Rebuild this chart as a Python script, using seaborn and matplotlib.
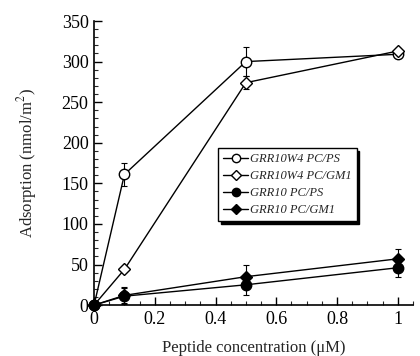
import numpy as np
import pandas as pd
import matplotlib
matplotlib.use("Agg")
import matplotlib.pyplot as plt
import seaborn as sns
from matplotlib.ticker import MultipleLocator

conc = [0.0, 0.1, 0.5, 1.0]
series = ["GRR10W4 PC/PS", "GRR10W4 PC/GM1", "GRR10 PC/PS", "GRR10 PC/GM1"]
w4_ps = [0, 161, 300, 309]
w4_gm1 = [0, 44, 274, 313]
g_ps = [0, 11, 25, 46]
g_gm1 = [0, 12, 35, 57]
w4_ps_err = [0, 14, 18, 4]
w4_gm1_err = [0, 3, 8, 4]
g_ps_err = [0, 10, 13, 11]
g_gm1_err = [0, 10, 15, 12]

values = [w4_ps, w4_gm1, g_ps, g_gm1]
errs = [w4_ps_err, w4_gm1_err, g_ps_err, g_gm1_err]

df = pd.DataFrame({
    "conc": np.tile(conc, 4),
    "ads": np.concatenate(values),
    "err": np.concatenate(errs),
    "series": np.repeat(series, 4),
})

sns.set_theme(style="ticks")
plt.rcParams["font.family"] = ["Liberation Serif", "DejaVu Serif"]
plt.rcParams["mathtext.fontset"] = "stix"

fig = plt.figure(figsize=(4.2, 3.56), dpi=100)
ax = fig.add_axes([0.224, 0.143, 0.759, 0.798])

styles = {
    "GRR10W4 PC/PS": dict(marker="o", mfc="white", ms=7.5),
    "GRR10W4 PC/GM1": dict(marker="D", mfc="white", ms=6),
    "GRR10 PC/PS": dict(marker="o", mfc="black", ms=7.5),
    "GRR10 PC/GM1": dict(marker="D", mfc="black", ms=6),
}

for name in series:
    sub = df[df["series"] == name]
    st = styles[name]
    ax.errorbar(sub["conc"], sub["ads"], yerr=sub["err"], fmt="none",
                ecolor="black", elinewidth=0.8, capsize=2.5, capthick=0.8,
                zorder=2, clip_on=False)
    sns.lineplot(data=sub, x="conc", y="ads", ax=ax, color="black",
                 linewidth=1.0, marker=st["marker"], markersize=st["ms"],
                 markerfacecolor=st["mfc"], markeredgecolor="black",
                 markeredgewidth=1.0, label=name, clip_on=False, zorder=3)

ax.set_xlim(0, 1.05)
ax.set_ylim(0, 350)
ax.xaxis.set_major_locator(MultipleLocator(0.2))
ax.xaxis.set_minor_locator(MultipleLocator(0.05))
ax.yaxis.set_major_locator(MultipleLocator(50))
ax.yaxis.set_minor_locator(MultipleLocator(10))
ax.set_xticks([0, 0.2, 0.4, 0.6, 0.8, 1.0])
ax.set_xticklabels(["0", "0.2", "0.4", "0.6", "0.8", "1"])
ax.tick_params(axis="both", which="major", direction="in", length=6,
               width=1, labelsize=13, colors="black", pad=4)
ax.tick_params(axis="both", which="minor", direction="in", length=3, width=0.8)
for s in ["top", "right"]:
    ax.spines[s].set_visible(False)
for s in ["left", "bottom"]:
    ax.spines[s].set_linewidth(1.2)
    ax.spines[s].set_color("black")

ax.set_xlabel("Peptide concentration (\u03bcM)", fontsize=12, labelpad=9)
ax.set_ylabel("Adsorption (nmol/m$^2$)", fontsize=12, labelpad=16)

leg = ax.legend(loc="upper left", bbox_to_anchor=(0.389, 0.553), frameon=True,
                fancybox=False, shadow={"color": "black", "alpha": 1},
                edgecolor="black", handlelength=2.0, handletextpad=0.15,
                borderpad=0.4, labelspacing=0.4, borderaxespad=0,
                markerscale=0.8,
                prop={"style": "italic", "size": 9})
leg.get_frame().set_linewidth(1.0)

fig.savefig("out.png", dpi=100)
